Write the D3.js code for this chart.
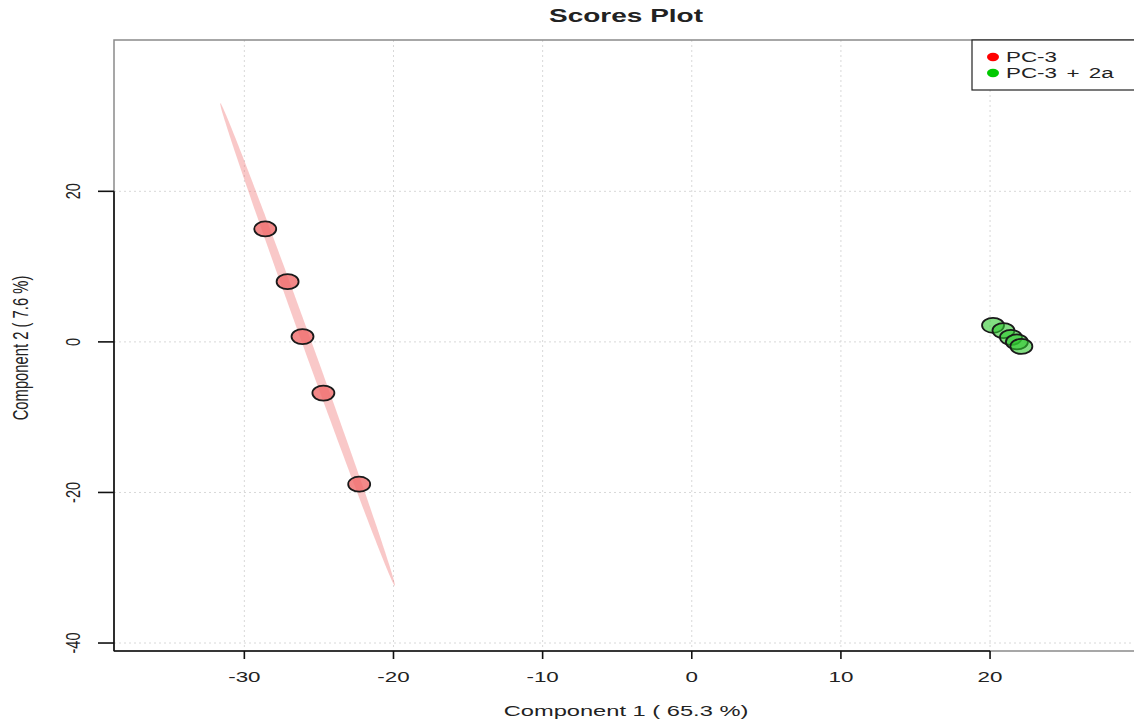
<!DOCTYPE html>
<html><head><meta charset="utf-8">
<script src="https://cdn.jsdelivr.net/npm/d3@7"></script>
<style>
html,body{margin:0;padding:0;background:#fff;overflow:hidden}
text{font-family:"Liberation Sans",Arial,sans-serif;fill:#222}
</style></head>
<body>
<svg id="chart" width="1134" height="724"></svg>
<script>
// ---- data ----
const title = "Scores Plot";
const xLabel = "Component 1 ( 65.3 %)";
const yLabel = "Component 2 ( 7.6 %)";
const groups = ["PC-3", "PC-3 + 2a"];
const groupColors = ["#ff0000", "#00c800"];
const groupFills = ["#f06a6a", "#2ec82e"];
const pc3X = [-28.6, -27.1, -26.1, -24.7, -22.3];
const pc3Y = [15.0, 8.0, 0.7, -6.8, -18.9];
const pc32aX = [20.2, 20.9, 21.4, 21.8, 22.1];
const pc32aY = [2.2, 1.5, 0.6, 0.0, -0.6];
const xTicks = [-30, -20, -10, 0, 10, 20];
const yTicks = [-40, -20, 0, 20];
// 95% confidence ellipse of PC-3 (data units): centre, major and minor half-axis vectors
const ellipseCenter = [-25.76, -0.36];
const ellipseMajor = [5.85, -32.05];
const ellipseMinor = [0.32, 0.06];

// ---- layout ----
const svg = d3.select("#chart");
const L = 114, R = 1138, T = 40, B = 651;
const SX = 1.6; // horizontal glyph stretch of the original rendering
const x = d3.scaleLinear().domain([-38.74, 29.92]).range([L, R]);
const y = d3.scaleLinear().domain([-41.06, 40.1]).range([B, T]);

// grid
svg.append("g").selectAll("line").data(xTicks).join("line")
  .attr("x1", d => x(d)).attr("x2", d => x(d)).attr("y1", T).attr("y2", B)
  .attr("stroke", "#d8d8d8").attr("stroke-width", 1).attr("stroke-dasharray", "2,3");
svg.append("g").selectAll("line").data(yTicks).join("line")
  .attr("y1", d => y(d)).attr("y2", d => y(d)).attr("x1", L).attr("x2", R)
  .attr("stroke", "#d8d8d8").attr("stroke-width", 1).attr("stroke-dasharray", "2,3");

// box (right side lies outside the window)
svg.append("rect").attr("x", L).attr("y", T).attr("width", R - L + 20).attr("height", B - T)
  .attr("fill", "none").attr("stroke", "#8a8a8a").attr("stroke-width", 1.5);

// ellipse
const tt = d3.range(0, 361, 3).map(a => a * Math.PI / 180);
const ell = tt.map(t => [
  ellipseCenter[0] + Math.cos(t) * ellipseMajor[0] + Math.sin(t) * ellipseMinor[0],
  ellipseCenter[1] + Math.cos(t) * ellipseMajor[1] + Math.sin(t) * ellipseMinor[1]]);
svg.append("path").attr("d", d3.line().x(d => x(d[0])).y(d => y(d[1])).curve(d3.curveLinearClosed)(ell))
  .attr("fill", "rgba(240,110,110,0.38)").attr("stroke", "none");

// points
const series = [
  {xs: pc3X, ys: pc3Y, fill: groupFills[0], op: 0.8},
  {xs: pc32aX, ys: pc32aY, fill: groupFills[1], op: 0.6}
];
series.forEach(s => {
  svg.append("g").selectAll("ellipse").data(s.xs.map((v, i) => [v, s.ys[i]])).join("ellipse")
    .attr("cx", d => x(d[0])).attr("cy", d => y(d[1]))
    .attr("rx", 11).attr("ry", 7.5)
    .attr("fill", s.fill).attr("fill-opacity", s.op)
    .attr("stroke", "#1a1a1a").attr("stroke-width", 1.8);
});

// axes
const axes = svg.append("g").attr("stroke", "#111").attr("stroke-width", 1.6);
axes.append("line").attr("x1", L).attr("x2", L).attr("y1", y(d3.max(yTicks))).attr("y2", B);
axes.append("line").attr("y1", B).attr("y2", B).attr("x1", L).attr("x2", x(d3.max(xTicks)));
axes.selectAll(".yt").data(yTicks).join("line").attr("class", "yt")
  .attr("x1", L - 16).attr("x2", L).attr("y1", d => y(d)).attr("y2", d => y(d));
axes.selectAll(".xt").data(xTicks).join("line").attr("class", "xt")
  .attr("y1", B).attr("y2", B + 8).attr("x1", d => x(d)).attr("x2", d => x(d));

function htext(str, px, py, size, weight) {
  const g = svg.append("g").attr("transform", `translate(${px},${py}) scale(${SX},1)`);
  g.append("text").attr("text-anchor", "middle").attr("font-size", size)
    .attr("font-weight", weight || "normal").text(str);
}
function vtext(str, px, py, size) {
  const g = svg.append("g").attr("transform", `translate(${px},${py}) scale(1.45,1) rotate(-90)`);
  g.append("text").attr("text-anchor", "middle").attr("font-size", size).text(str);
}
xTicks.forEach(d => htext(d3.format("")(d).replace("−", "-"), x(d), 682, 14));
yTicks.forEach(d => vtext(d3.format("")(d).replace("−", "-"), 80, y(d), 14.5));
htext(title, 626, 22, 17.5, "bold");
htext(xLabel, 626, 716, 14.8);
vtext(yLabel, 28, 348, 14.8);

// legend
svg.append("rect").attr("x", 972).attr("y", 40).attr("width", 200).attr("height", 50)
  .attr("fill", "#fff").attr("stroke", "#222").attr("stroke-width", 1.2);
groups.forEach((gname, i) => {
  const cy = 57 + i * 16;
  svg.append("ellipse").attr("cx", 993).attr("cy", cy).attr("rx", 6).attr("ry", 4.2)
    .attr("fill", groupColors[i]);
  const g = svg.append("g").attr("transform", `translate(1006,${cy + 5}) scale(${SX},1)`);
  g.append("text").attr("font-size", 14).attr("word-spacing", 2).text(gname);
});
</script>
</body></html>
